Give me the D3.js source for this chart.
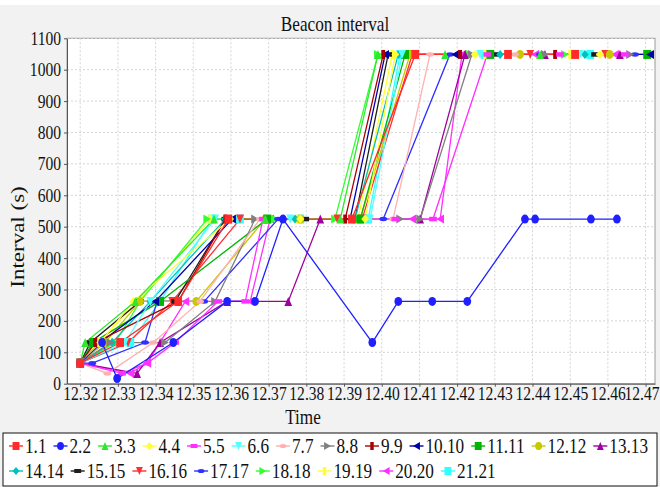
<!DOCTYPE html>
<html>
<head>
<meta charset="utf-8">
<script src="https://cdn.jsdelivr.net/npm/d3@7"></script>
<style>
body { margin: 0; background: #fff; }
text { fill: #111; }
</style>
</head>
<body>
<svg width="660" height="487"></svg>
<script>
var seriesNames = ["1.1","2.2","3.3","4.4","5.5","6.6","7.7","8.8","9.9","10.10","11.11",
                   "12.12","13.13","14.14","15.15","16.16","17.17","18.18","19.19","20.20","21.21"];

var seriesColors = ["#ff2a2a","#1f1fff","#2ee82e","#ffff33","#ff30ff","#55ffff","#ffb0b0",
                    "#808080","#a80000","#0000a8","#00b400","#c8c800","#a000a0","#00c0c0",
                    "#1e1e1e","#ff3030","#3030ff","#30ff30","#ffff30","#ff30ff","#30ffff"];

var seriesShapes = ["square","circle","triUp","diamond","hrect","triDown","ellipse","triRight","vrect","triLeft",
                    "square","circle","triUp","diamond","hrect","triDown","ellipse","triRight","vrect","triLeft",
                    "square"];

// time of each sample
var times = [
  [12.3200,12.3306,12.3460,12.3593,12.3921,12.4089,12.4335,12.4513],
  [12.3200,12.3258,12.3298,12.3447,12.3590,12.3664,12.3738,12.3975,12.4044,12.4134,12.4227,12.4380,12.4407,12.4555,12.4624],
  [12.3200,12.3213,12.3346,12.3555,12.3691,12.3890,12.3990,12.4168,12.4420],
  [12.3200,12.3253,12.3341,12.3598,12.3784,12.3956,12.4036,12.4247,12.4579],
  [12.3200,12.3311,12.3378,12.3452,12.3566,12.3638,12.3685,12.4036,12.4136,12.4280,12.4473,12.4645],
  [12.3200,12.3319,12.3386,12.3558,12.3757,12.3969,12.4054,12.4261,12.4526],
  [12.3200,12.3272,12.3394,12.3518,12.3677,12.4030,12.4128,12.4354,12.4579],
  [12.3200,12.3280,12.3425,12.3558,12.3664,12.4049,12.4102,12.4239,12.4433,12.4659],
  [12.3200,12.3240,12.3460,12.3585,12.3903,12.4004,12.4208,12.4460],
  [12.3200,12.3253,12.3399,12.3603,12.3916,12.4009,12.4195,12.4712],
  [12.3200,12.3234,12.3412,12.3696,12.3943,12.4062,12.4288,12.4704],
  [12.3200,12.3266,12.3359,12.3508,12.3691,12.3784,12.3943,12.4075,12.4367,12.4605],
  [12.3200,12.3351,12.3412,12.3590,12.3752,12.3837,12.4102,12.4221,12.4433,12.4632],
  [12.3200,12.3285,12.3386,12.3585,12.3770,12.3929,12.4044,12.4314,12.4539],
  [12.3200,12.3227,12.3359,12.3452,12.3585,12.3797,12.3929,12.4017,12.4301,12.4566],
  [12.3200,12.3327,12.3444,12.3624,12.3882,12.3948,12.4081,12.4394,12.4593],
  [12.3200,12.3232,12.3372,12.3404,12.3529,12.3725,12.4004,12.4181,12.4420,12.4672],
  [12.3200,12.3293,12.3359,12.3537,12.3717,12.3876,12.3990,12.4234,12.4486],
  [12.3200,12.3248,12.3354,12.3545,12.3778,12.3937,12.4028,12.4274,12.4500],
  [12.3200,12.3333,12.3378,12.3479,12.3651,12.3704,12.4081,12.4155,12.4213,12.4407,12.4619],
  [12.3200,12.3333,12.3412,12.3550,12.3624,12.3784,12.3964,12.4049,12.4274,12.4553]
];

// beacon interval (s) of each sample
var intervals = [
  [65.5,131.1,262.1,524.3,524.3,1048.6,1048.6,1048.6],
  [65.5,131.1,16.4,131.1,262.1,262.1,524.3,131.1,262.1,262.1,262.1,524.3,524.3,524.3,524.3],
  [65.5,131.1,262.1,524.3,524.3,524.3,1048.6,1048.6,1048.6],
  [65.5,131.1,262.1,524.3,524.3,524.3,1048.6,1048.6,1048.6],
  [65.5,32.8,65.5,131.1,262.1,262.1,524.3,524.3,524.3,1048.6,1048.6,1048.6],
  [65.5,131.1,262.1,524.3,524.3,524.3,1048.6,1048.6,1048.6],
  [65.5,32.8,131.1,262.1,524.3,524.3,1048.6,1048.6,1048.6],
  [65.5,131.1,131.1,262.1,524.3,524.3,524.3,1048.6,1048.6,1048.6],
  [65.5,131.1,262.1,524.3,524.3,1048.6,1048.6,1048.6],
  [65.5,131.1,262.1,524.3,524.3,1048.6,1048.6,1048.6],
  [65.5,131.1,262.1,524.3,524.3,1048.6,1048.6,1048.6],
  [65.5,131.1,262.1,262.1,524.3,524.3,524.3,1048.6,1048.6,1048.6],
  [65.5,32.8,131.1,262.1,262.1,524.3,524.3,1048.6,1048.6,1048.6],
  [65.5,131.1,262.1,524.3,524.3,524.3,1048.6,1048.6,1048.6],
  [65.5,131.1,262.1,262.1,524.3,524.3,524.3,1048.6,1048.6,1048.6],
  [65.5,131.1,262.1,524.3,524.3,524.3,1048.6,1048.6,1048.6],
  [65.5,65.5,131.1,262.1,262.1,524.3,524.3,1048.6,1048.6,1048.6],
  [65.5,131.1,262.1,524.3,524.3,524.3,1048.6,1048.6,1048.6],
  [65.5,131.1,262.1,524.3,524.3,524.3,1048.6,1048.6,1048.6],
  [65.5,32.8,65.5,262.1,262.1,524.3,524.3,524.3,1048.6,1048.6,1048.6],
  [65.5,131.1,262.1,524.3,524.3,524.3,524.3,1048.6,1048.6,1048.6]
];

var xTicks = [12.32,12.33,12.34,12.35,12.36,12.37,12.38,12.39,12.40,12.41,12.42,12.43,12.44,12.45,12.46,12.47];
var yTicks = [0,100,200,300,400,500,600,700,800,900,1000,1100];

var svg = d3.select("svg");
var squeeze = 0.86;     // the picture is narrowed sideways, text and marks too
var tickSqueeze = 0.82;
var plot = {left: 67, right: 655, top: 38.3, bottom: 383.7};

// pick the first installed Times-like face
function hasFont(name) {
    var probe = svg.append("text").style("font-size", "40px").text("mmmWWWiiilll123");
    probe.style("font-family", "monospace");
    var w0 = probe.node().getComputedTextLength();
    probe.style("font-family", "'" + name + "', monospace");
    var w1 = probe.node().getComputedTextLength();
    probe.remove();
    return Math.abs(w0 - w1) > 0.5;
}
var fontName = ["Liberation Serif", "Times New Roman", "Tinos", "Nimbus Roman", "DejaVu Serif", "Noto Serif"]
    .filter(hasFont)[0];
svg.style("font-family", fontName ? "'" + fontName + "', serif" : "serif");

var x = d3.scaleLinear().domain([12.3165, 12.4725]).range([plot.left, plot.right]);
var y = d3.scaleLinear().domain([0, 1100]).range([plot.bottom, plot.top]);

// backgrounds
svg.append("rect").attr("width", 660).attr("height", 487).attr("fill", "#fff");
svg.append("rect").attr("y", 5).attr("width", 660).attr("height", 482).attr("fill", "#f2f2f2");
svg.append("rect")
    .attr("x", plot.left).attr("y", plot.top)
    .attr("width", plot.right - plot.left).attr("height", plot.bottom - plot.top)
    .attr("fill", "#fff").attr("stroke", "#9a9a9a");

// grid
var grid = svg.append("g").attr("stroke", "#d4d4d4").attr("stroke-dasharray", "2,2");
grid.selectAll(".vg").data(xTicks).enter().append("line")
    .attr("x1", function(d) {return x(d)}).attr("x2", function(d) {return x(d)})
    .attr("y1", plot.top).attr("y2", plot.bottom);
grid.selectAll(".hg").data(yTicks.slice(1)).enter().append("line")
    .attr("x1", plot.left).attr("x2", plot.right)
    .attr("y1", function(d) {return y(d)}).attr("y2", function(d) {return y(d)});

// axes
var xAxis = svg.append("g")
    .attr("transform", "translate(0," + plot.bottom + ")")
    .call(d3.axisBottom(x).tickValues(xTicks).tickFormat(d3.format(".2f")).tickSize(3).tickSizeOuter(0));
var yAxis = svg.append("g")
    .attr("transform", "translate(" + plot.left + ",0)")
    .call(d3.axisLeft(y).tickValues(yTicks).tickFormat(d3.format("d")).tickSize(3).tickSizeOuter(0));

[xAxis, yAxis].forEach(function(a) {
    a.attr("font-family", null).attr("font-size", null);
    a.select(".domain").attr("stroke", "#555");
    a.selectAll(".tick line").attr("stroke", "#555");
    a.selectAll("text").style("font-size", "19px").attr("transform", "scale(" + tickSqueeze + ",1)");
});
xAxis.selectAll("text").attr("y", 3);
yAxis.selectAll("text").attr("x", -6 / tickSqueeze);
// last time label sits against the right edge
xAxis.selectAll(".tick").filter(function(d, i) {return i === xTicks.length - 1})
    .select("text").attr("text-anchor", "end").attr("x", (660 - 1 - x(xTicks[xTicks.length - 1])) / tickSqueeze);

// titles
function label(txt, px, py, size, rot) {
    svg.append("text")
        .attr("transform", "translate(" + px + "," + py + ") scale(" + squeeze + ",1)" + (rot ? " rotate(" + rot + ")" : ""))
        .attr("text-anchor", "middle")
        .style("font-size", size + "px")
        .text(txt);
}
label("Beacon interval", 335, 31, 20);
label("Time", 303, 424, 20);
label("Interval (s)", 24, 237, 23, -90);

// marker shapes
function shapePath(type, s) {
    var h = s / 2, q = s / 4;
    switch (type) {
        case "square": return "M" + -h + "," + -h + "H" + h + "V" + h + "H" + -h + "Z";
        case "circle": return d3.symbol(d3.symbolCircle, Math.PI * h * h)();
        case "triUp": return "M0," + -h + "L" + h + "," + h + "L" + -h + "," + h + "Z";
        case "triDown": return "M0," + h + "L" + h + "," + -h + "L" + -h + "," + -h + "Z";
        case "triRight": return "M" + h + ",0L" + -h + "," + -h + "L" + -h + "," + h + "Z";
        case "triLeft": return "M" + -h + ",0L" + h + "," + -h + "L" + h + "," + h + "Z";
        case "diamond": return "M0," + -h + "L" + h + ",0L0," + h + "L" + -h + ",0Z";
        case "hrect": return "M" + -h + "," + -q + "H" + h + "V" + q + "H" + -h + "Z";
        case "vrect": return "M" + -q + "," + -h + "H" + q + "V" + h + "H" + -q + "Z";
        case "ellipse": return "M" + -h + ",0A" + h + "," + q + " 0 1,0 " + h + ",0A" + h + "," + q + " 0 1,0 " + -h + ",0Z";
    }
}

var series = seriesNames.map(function(name, i) {
    return {
        name: name, color: seriesColors[i], shape: seriesShapes[i],
        points: times[i].map(function(t, j) {return [t, intervals[i][j]]})
    };
});
var drawOrder = series.slice().reverse();

var line = d3.line()
    .x(function(d) {return x(d[0])})
    .y(function(d) {return y(d[1])});

var g = svg.append("g");
g.selectAll(".line").data(drawOrder).enter().append("path")
    .attr("class", "line")
    .attr("fill", "none")
    .attr("stroke", function(d) {return d.color})
    .attr("stroke-width", 1.3)
    .attr("d", function(d) {return line(d.points)});

drawOrder.forEach(function(s) {
    g.selectAll(null).data(s.points).enter().append("path")
        .attr("transform", function(d) {return "translate(" + x(d[0]) + "," + y(d[1]) + ") scale(" + squeeze + ",1)"})
        .attr("d", shapePath(s.shape, 9))
        .attr("fill", s.color);
});

// legend
var legend = svg.append("g");
legend.append("rect")
    .attr("x", 3).attr("y", 433).attr("width", 654).attr("height", 53)
    .attr("fill", "#fff").attr("stroke", "#111");

var lx = 9, ly = 446, rowH = 25;
series.forEach(function(s) {
    var item = legend.append("g");
    var t = item.append("text")
        .style("font-size", "20px")
        .attr("dy", "0.35em")
        .text(s.name);
    var tw = t.node().getComputedTextLength() * squeeze;
    if (lx + 16 + tw > 652) {
        lx = 9;
        ly += rowH;
    }
    item.append("line")
        .attr("x1", lx).attr("x2", lx + 14).attr("y1", ly).attr("y2", ly)
        .attr("stroke", s.color).attr("stroke-width", 1.4);
    item.append("path")
        .attr("transform", "translate(" + (lx + 7) + "," + ly + ") scale(" + squeeze + ",1)")
        .attr("d", shapePath(s.shape, 8))
        .attr("fill", s.color);
    t.attr("transform", "translate(" + (lx + 16) + "," + ly + ") scale(" + squeeze + ",1)");
    lx += 16 + tw + 7;
});
</script>
</body>
</html>
